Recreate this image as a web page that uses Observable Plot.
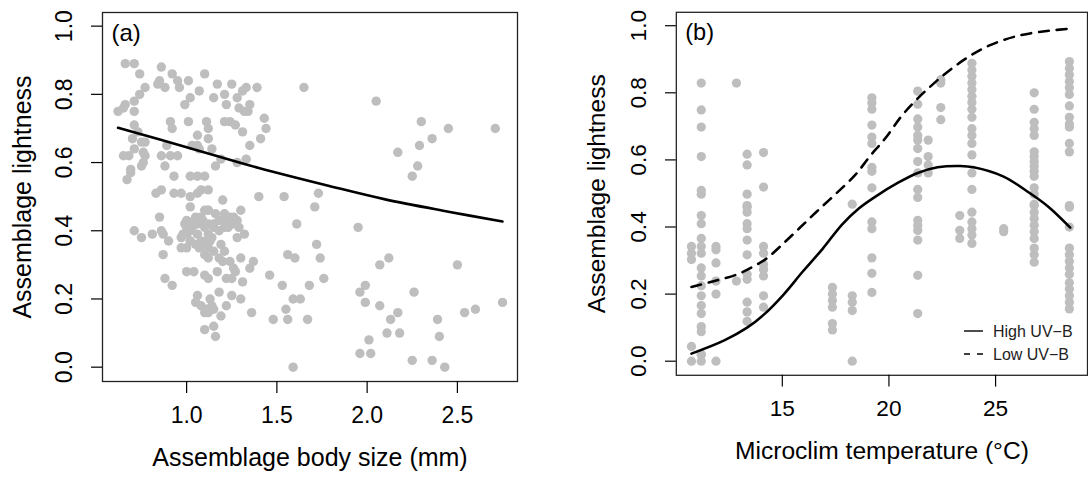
<!DOCTYPE html>
<html>
<head>
<meta charset="utf-8">
<script src="https://cdn.jsdelivr.net/npm/d3@7"></script>
<script src="https://cdn.jsdelivr.net/npm/@observablehq/plot@0.6"></script>
<style>
  html, body { margin: 0; padding: 0; background: #fff; overflow: hidden; width: 1088px; height: 477px; }
  #wrap { position: relative; width: 1088px; height: 477px; overflow: hidden; font-family: "Liberation Sans", Arial, sans-serif; }
  #panelA { position: absolute; left: 0; top: 0; }
  #panelB { position: absolute; left: 544px; top: 0; }
  #legend { position: absolute; left: 958px; top: 318px; }
</style>
</head>
<body>
<div id="wrap">
  <div id="panelA"></div>
  <div id="panelB"></div>
  <svg id="legend" width="130" height="50" font-family="Liberation Sans, Arial, sans-serif">
    <line x1="6" x2="25" y1="13" y2="13" stroke="#000" stroke-width="1.4"></line>
    <line x1="6" x2="25" y1="36" y2="36" stroke="#000" stroke-width="1.4" stroke-dasharray="6,7"></line>
    <text x="35" y="13" dy="0.35em" font-size="16" fill="#222">High UV−B</text>
    <text x="35" y="36" dy="0.35em" font-size="16" fill="#222">Low UV−B</text>
  </svg>
</div>
<script>
// ---------- Panel (a): assemblage body size vs lightness ----------
const bodySize = [
  0.66,0.71,0.74,0.86,0.92,0.95,1.10,0.85,0.84,0.88,0.96,1.01,1.17,1.25,1.33,1.39,1.65,
  0.77,0.74,0.71,0.66,0.65,0.62,0.71,0.99,1.02,1.07,1.15,1.21,1.22,1.28,1.31,1.29,1.32,1.35,1.34,
  0.91,0.92,1.01,1.11,1.12,1.06,1.12,1.21,1.24,1.27,1.31,1.43,1.44,1.41,1.35,
  0.71,0.73,0.70,0.75,0.77,0.71,0.76,0.89,1.03,1.06,1.07,1.14,1.19,1.28,1.33,
  0.65,0.68,0.77,0.86,0.91,0.95,0.75,0.76,0.88,0.69,0.69,0.67,1.16,0.93,1.02,1.06,1.10,
  0.83,0.86,0.93,0.97,1.02,1.06,1.08,1.12,1.20,1.40,1.54,1.73,1.71,1.02,1.12,
  1.12,1.30,0.85,0.71,0.75,0.81,0.86,0.87,0.90,0.87,
  0.99,1.00,0.97,1.00,1.02,1.04,1.06,1.08,1.10,1.12,1.15,1.18,1.21,1.24,1.25,1.28,1.21,1.23,1.26,1.32,1.28,
  0.97,1.00,1.02,1.05,1.08,1.11,1.13,1.12,1.15,1.10,1.12,1.18,1.21,1.24,1.20,1.30,1.26,1.27,1.35,1.37,
  1.00,1.04,1.10,1.12,1.17,1.22,1.25,1.31,1.46,1.53,1.56,1.60,1.61,1.72,1.74,1.76,1.68,0.88,0.92,
  1.18,1.25,1.30,1.22,1.06,1.05,1.08,1.11,1.13,1.14,1.15,1.19,1.10,1.12,1.36,1.48,1.56,1.55,1.59,1.63,1.67,
  1.10,1.15,1.16,1.59,
  2.05,2.30,2.45,2.36,2.71,2.29,2.17,2.28,2.25,
  1.95,2.07,2.12,2.50,1.99,1.96,1.99,2.07,2.26,2.17,2.13,2.11,2.18,2.01,1.96,2.02,2.39,2.40,2.54,2.60,2.75,2.25,2.36,2.43,
  1.00,1.03,1.06,1.09,1.12,1.15,1.18,1.02,1.07,1.11,1.14,1.19,1.23,1.26,1.29,0.98,1.05,1.10,1.16,1.21
];
const lightnessA = [
  0.89,0.89,0.86,0.88,0.86,0.84,0.86,0.84,0.83,0.82,0.82,0.84,0.83,0.83,0.82,0.82,0.82,
  0.82,0.80,0.78,0.77,0.76,0.75,0.75,0.77,0.79,0.81,0.79,0.80,0.77,0.79,0.81,0.76,0.75,0.77,0.75,
  0.72,0.70,0.72,0.72,0.70,0.68,0.67,0.72,0.72,0.71,0.69,0.73,0.70,0.67,0.65,
  0.71,0.69,0.67,0.66,0.66,0.64,0.63,0.65,0.65,0.65,0.64,0.64,0.61,0.60,0.61,
  0.62,0.62,0.62,0.62,0.62,0.62,0.59,0.60,0.59,0.58,0.57,0.55,0.59,0.56,0.56,0.56,0.56,
  0.51,0.52,0.51,0.51,0.50,0.51,0.52,0.52,0.49,0.50,0.50,0.51,0.47,0.47,0.46,
  0.46,0.46,0.44,0.40,0.38,0.39,0.40,0.39,0.37,0.33,
  0.42,0.41,0.38,0.39,0.40,0.43,0.42,0.44,0.41,0.42,0.41,0.43,0.43,0.44,0.43,0.43,0.41,0.42,0.42,0.39,0.38,
  0.35,0.35,0.37,0.36,0.37,0.37,0.37,0.35,0.34,0.33,0.32,0.32,0.34,0.31,0.31,0.32,0.29,0.28,0.29,0.31,
  0.28,0.28,0.27,0.26,0.28,0.26,0.26,0.25,0.27,0.24,0.33,0.32,0.42,0.36,0.32,0.26,0.24,0.26,0.24,
  0.22,0.21,0.20,0.18,0.21,0.19,0.18,0.17,0.20,0.18,0.17,0.15,0.16,0.16,0.16,0.14,0.14,0.17,0.20,0.20,0.14,
  0.11,0.12,0.09,0.00,
  0.78,0.72,0.70,0.67,0.70,0.65,0.63,0.59,0.56,
  0.41,0.30,0.32,0.30,0.24,0.22,0.19,0.18,0.22,0.16,0.14,0.10,0.10,0.08,0.04,0.04,0.14,0.09,0.16,0.17,0.19,0.02,0.02,0.00,
  0.43,0.41,0.39,0.43,0.39,0.42,0.40,0.37,0.35,0.35,0.38,0.36,0.41,0.44,0.41,0.39,0.44,0.46,0.45,0.45
];
const fitSize      = [0.62, 1.00, 1.40, 1.80, 2.10, 2.45, 2.75];
const fitLightness = [0.702, 0.645, 0.584, 0.530, 0.492, 0.456, 0.427];

// ---------- Panel (b): microclimate temperature vs lightness ----------
const tempColumns = [10.74, 11.2, 11.89, 12.85, 13.35, 14.12, 17.35, 18.28, 19.2, 21.35, 21.84, 22.43, 23.32, 23.89, 25.38, 26.81, 28.46];
const lightnessByColumn = [
  [0.342,0.322,0.303,0.044,0.0],
  [0.829,0.749,0.698,0.610,0.509,0.498,0.434,0.410,0.366,0.342,0.322,0.278,0.254,0.225,0.195,0.166,0.142,0.103,0.088,0.020,0.0,0.02],
  [0.342,0.332,0.293,0.239,0.200,0.0],
  [0.829,0.239],
  [0.617,0.585,0.498,0.464,0.459,0.444,0.410,0.395,0.361,0.317,0.259,0.244,0.176,0.147,0.119],
  [0.622,0.519,0.342,0.322,0.288,0.273,0.254,0.195,0.161],
  [0.220,0.200,0.181,0.161,0.112,0.093],
  [0.468,0.195,0.176,0.151,0.0],
  [0.785,0.770,0.751,0.704,0.668,0.649,0.578,0.566,0.517,0.415,0.395,0.308,0.262,0.205],
  [0.805,0.766,0.722,0.698,0.673,0.659,0.634,0.595,0.561,0.512,0.488,0.420,0.405,0.390,0.361,0.256,0.142],
  [0.659,0.610,0.585,0.561],
  [0.839,0.829,0.756,0.720],
  [0.434,0.390,0.366],
  [0.888,0.868,0.849,0.829,0.810,0.790,0.771,0.751,0.727,0.693,0.673,0.649,0.615,0.561,0.512,0.444,0.415,0.395,0.376,0.351],
  [0.395,0.386],
  [0.800,0.751,0.712,0.693,0.673,0.624,0.610,0.595,0.581,0.566,0.551,0.517,0.498,0.468,0.464,0.444,0.425,0.405,0.386,0.366,0.337,0.317,0.295],
  [0.893,0.873,0.854,0.834,0.815,0.795,0.761,0.727,0.707,0.698,0.649,0.624,0.464,0.459,0.400,0.337,0.317,0.298,0.278,0.259,0.234,0.215,0.195,0.176,0.156]
];
const highUVTemp      = [10.74, 12.28, 13.35, 14.12, 15.05, 15.97, 16.89, 17.81, 18.6, 19.35, 20.43, 21.35, 22.28, 23.35, 23.97, 25.35, 26.58, 27.5, 28.5];
const highUVLightness = [0.0225, 0.062, 0.100, 0.138, 0.198, 0.268, 0.335, 0.408, 0.456, 0.490, 0.532, 0.561, 0.578, 0.582, 0.578, 0.551, 0.502, 0.459, 0.398];
const lowUVTemp       = [10.74, 11.82, 12.89, 13.66, 14.28, 15.05, 15.81, 16.58, 17.51, 18.43, 19.12, 19.81, 20.74, 22.12, 23.51, 24.74, 26.12, 27.5, 28.5];
const lowUVLightness  = [0.2215, 0.239, 0.259, 0.283, 0.307, 0.351, 0.397, 0.444, 0.499, 0.556, 0.612, 0.663, 0.742, 0.829, 0.898, 0.942, 0.971, 0.985, 0.991];

const yTicks = [0, 0.2, 0.4, 0.6, 0.8, 1.0];
const xTicksA = [1.0, 1.5, 2.0, 2.5];
const xTicksB = [15, 20, 25];

// build tables
const ptsA = bodySize.map((x, i) => ({x, y: lightnessA[i]}));
const fitA = fitSize.map((x, i) => ({x, y: fitLightness[i]}));
const ptsB = tempColumns.flatMap((t, i) => lightnessByColumn[i].map(v => ({x: t, y: v})));
const hiB = highUVTemp.map((x, i) => ({x, y: highUVLightness[i]}));
const loB = lowUVTemp.map((x, i) => ({x, y: lowUVLightness[i]}));

const FONT = "Liberation Sans, Arial, sans-serif";
const PT = "#bebebe";

function panel({width, marginLeft, marginRight, xDomain, xTicks, xFmt, xTitle, tag, pts, lines}) {
  return Plot.plot({
    width, height: 477,
    marginLeft, marginRight, marginTop: 12, marginBottom: 96,
    style: {fontFamily: FONT, fontSize: "23px", color: "#000", background: "transparent", overflow: "visible"},
    x: {domain: xDomain},
    y: {domain: [-0.042, 1.04]},
    marks: [
      Plot.dot(pts, {x: "x", y: "y", r: 4.7, fill: PT}),
      ...lines,
      Plot.frame({stroke: "#222", strokeWidth: 1.3}),
      Plot.axisY({ticks: yTicks, tickFormat: d3.format(".1f"), tickRotate: -90, tickSize: 11, tickPadding: 20, fontSize: 23, label: null, strokeWidth: 1.2}),
      Plot.axisX({ticks: xTicks, tickFormat: xFmt, tickSize: 12, tickPadding: 13, fontSize: 23, label: null, strokeWidth: 1.2}),
      Plot.text(["Assemblage lightness"], {text: d => d, frameAnchor: "left", dx: -80, rotate: -90, textAnchor: "middle", lineAnchor: "middle", fontSize: 25}),
      Plot.text([xTitle], {text: d => d, frameAnchor: "bottom", dy: 67, textAnchor: "middle", lineAnchor: "top", fontSize: 25}),
      Plot.text([tag], {text: d => d, frameAnchor: "top-left", dx: 9, dy: 11, textAnchor: "start", lineAnchor: "top", fontSize: 24})
    ]
  });
}

const A = panel({
  width: 544, marginLeft: 102, marginRight: 27,
  xDomain: [0.534, 2.833], xTicks: xTicksA, xFmt: d3.format(".1f"),
  xTitle: "Assemblage body size (mm)", tag: "(a)", pts: ptsA,
  lines: [Plot.line(fitA, {x: "x", y: "y", stroke: "#000", strokeWidth: 2.6, curve: "catmull-rom"})]
});
document.getElementById("panelA").appendChild(A);

const B = panel({
  width: 553, marginLeft: 134, marginRight: 1,
  xDomain: [10.03, 29.31], xTicks: xTicksB, xFmt: d3.format("d"),
  xTitle: "Microclim temperature (°C)", tag: "(b)", pts: ptsB,
  lines: [
    Plot.line(hiB, {x: "x", y: "y", stroke: "#000", strokeWidth: 2.6, curve: "catmull-rom"}),
    Plot.line(loB, {x: "x", y: "y", stroke: "#000", strokeWidth: 2.6, strokeDasharray: "10,8", curve: "catmull-rom"})
  ]
});
document.getElementById("panelB").appendChild(B);
</script>
</body>
</html>
